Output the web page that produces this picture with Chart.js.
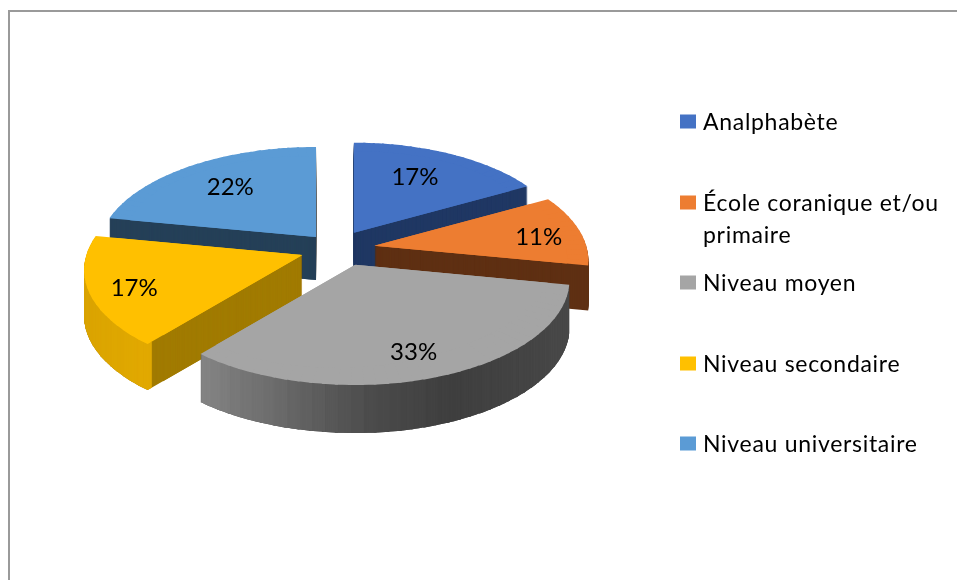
<!DOCTYPE html>
<html lang="fr">
<head>
<meta charset="utf-8">
<title>Niveau d'instruction</title>
<script src="https://cdn.jsdelivr.net/npm/chart.js@4/dist/chart.umd.min.js"></script>
<style>
html,body{margin:0;padding:0;background:#fff;overflow:hidden}
canvas{display:block}
</style>
</head>
<body>
<canvas id="c" width="957" height="580"></canvas>
<script>
const categories = ['Analphabète', 'École coranique et/ou primaire', 'Niveau moyen', 'Niveau secondaire', 'Niveau universitaire'];
const percentages = [17, 11, 33, 17, 22];

const legendLines = [['Analphabète'], ['École coranique et/ou', 'primaire'], ['Niveau moyen'], ['Niveau secondaire'], ['Niveau universitaire']];
const topColors = ['#4472C4', '#ED7D31', '#A5A5A5', '#FFC000', '#5B9BD5'];
const wallColors = ['#203864', '#5F3013', '#4A4A4A', '#A17B00', '#254058'];
const rimStops = [null, null,
  [[-0.75, '#8E8E8E'], [-0.35, '#6E6E6E'], [0.05, '#4C4C4C'], [0.4, '#3F3F3F'], [1, '#4A4A4A']],
  [[-1, '#D9A300'], [-0.6, '#E2AA00']],
  null];
const labelFractions = [0.63, 0.76, 0.8, 0.8, 0.66];
const labelNudge = [[-2, -4], [8, 4], [-6, 1], [1, 4], [-1, -1]];
const explodeNudge = [[1, -4], [7, -1], [7, 2], [-7, 1], [-3, -1]];
const drawOrder = [4, 0, 1, 3, 2];

// Oblique view of the pie plane
const view = {cx: 338, cy: 249, rxLeft: 216, rxRight: 212, ry: 103, persp: 1 / 7, explode: 0.14, depth: 45, depthTilt: 3};
const LEGEND_FONT = '23px Lato';
const LABEL_FONT = '24px Lato';
const SPACING = '0.7px';

function project(u, v) {
  const w = 1 - view.persp * v;
  return {x: (u < 0 ? view.rxLeft : view.rxRight) * u / w, y: view.ry * v / w};
}
function hexMix(a, b, t) {
  const p = h => [1, 3, 5].map(i => parseInt(h.substr(i, 2), 16));
  const A = p(a), B = p(b);
  return 'rgb(' + A.map((c, i) => Math.round(c + (B[i] - c) * t)).join(',') + ')';
}
function rimColor(i, u) {
  const st = rimStops[i];
  if (!st) return wallColors[i];
  if (u <= st[0][0]) return st[0][1];
  for (let k = 1; k < st.length; k++) {
    if (u <= st[k][0]) return hexMix(st[k - 1][1], st[k][1], (u - st[k - 1][0]) / (st[k][0] - st[k - 1][0]));
  }
  return st[st.length - 1][1];
}
function apexOf(arc, i) {
  const m = (arc.startAngle + arc.endAngle) / 2;
  const p = project(view.explode * Math.cos(m), view.explode * Math.sin(m));
  return {x: view.cx + p.x + explodeNudge[i][0], y: view.cy + p.y + explodeNudge[i][1]};
}
// Draw part of a library arc element, with the plane's projection applied locally
function drawPiece(ctx, arc, a, b, color, apex, dy, scale) {
  const ua = Math.cos(a), va = Math.sin(a), ub = Math.cos(b), vb = Math.sin(b);
  const A = project(ua, va), B = project(ub, vb);
  const det = ua * vb - ub * va;
  const s = scale || 1;
  const m11 = s * (A.x * vb - B.x * va) / det, m12 = s * (B.x * ua - A.x * ub) / det;
  const m21 = s * (A.y * vb - B.y * va) / det, m22 = s * (B.y * ua - A.y * ub) / det;
  const r = arc.outerRadius;
  const sa = arc.startAngle, ea = arc.endAngle, ci = arc.circumference, op = arc.options;
  arc.startAngle = a;
  arc.endAngle = Math.min(b + 0.012, ea);
  arc.circumference = arc.endAngle - a;
  arc.options = Object.assign({}, op, {backgroundColor: color, borderColor: color, borderWidth: 0, offset: 0, spacing: 0});
  ctx.save();
  ctx.setTransform(m11 / r, m21 / r, m12 / r, m22 / r,
    apex.x - (m11 * arc.x + m12 * arc.y) / r,
    apex.y + dy - (m21 * arc.x + m22 * arc.y) / r);
  arc.draw(ctx);
  ctx.restore();
  arc.startAngle = sa; arc.endAngle = ea; arc.circumference = ci; arc.options = op;
}
function pieces(arc) {
  const out = [], step = Math.PI / 60;
  const n = Math.max(1, Math.ceil((arc.endAngle - arc.startAngle) / step));
  const d = (arc.endAngle - arc.startAngle) / n;
  for (let k = 0; k < n; k++) out.push([arc.startAngle + k * d, arc.startAngle + (k + 1) * d]);
  return out;
}
function drawSolid(ctx, arc, parts, color, apex, dy) {
  parts.forEach(p => drawPiece(ctx, arc, p[0], p[1], color, apex, dy));
  drawPiece(ctx, arc, arc.startAngle, arc.endAngle, color, apex, dy, 0.9);
}
function drawSlice(ctx, arc, i) {
  const apex = apexOf(arc, i);
  const mid = (arc.startAngle + arc.endAngle) / 2;
  const depth = Math.round(view.depth + view.depthTilt * Math.sin(mid));
  const parts = pieces(arc);
  // body of the slice in its dark wall colour: this gives the straight cut walls
  for (let d = depth; d >= 1; d--) drawSolid(ctx, arc, parts, wallColors[i], apex, d);
  // curved outer wall shading, as a thin ring following the rim
  if (rimStops[i]) {
    const hole = arc.innerRadius;
    arc.innerRadius = arc.outerRadius * 0.97;
    for (let d = depth; d >= 1; d--) {
      parts.forEach(p => {
        const m = (p[0] + p[1]) / 2;
        drawPiece(ctx, arc, p[0], p[1], rimColor(i, Math.cos(m)), apex, d);
      });
    }
    arc.innerRadius = hole;
  }
  // top face
  drawSolid(ctx, arc, parts, topColors[i], apex, 0);
}

const pie3d = {
  id: 'pie3d',
  beforeDatasetsDraw(chart) {
    const ctx = chart.ctx, arcs = chart.getDatasetMeta(0).data;
    drawOrder.forEach(i => drawSlice(ctx, arcs[i], i));
    ctx.save();
    ctx.font = LABEL_FONT;
    ctx.letterSpacing = '0px';
    ctx.fillStyle = '#000';
    ctx.textAlign = 'center';
    ctx.textBaseline = 'middle';
    arcs.forEach((arc, i) => {
      const apex = apexOf(arc, i), m = (arc.startAngle + arc.endAngle) / 2, f = labelFractions[i];
      const p = project(f * Math.cos(m), f * Math.sin(m));
      ctx.fillText(percentages[i] + '%', apex.x + p.x + labelNudge[i][0], apex.y + p.y + labelNudge[i][1]);
    });
    ctx.restore();
    return false;
  },
  afterDraw(chart) {
    const ctx = chart.ctx;
    ctx.save();
    // frame
    ctx.strokeStyle = '#9A9A9A';
    ctx.lineWidth = 2;
    ctx.beginPath();
    ctx.moveTo(9, 580); ctx.lineTo(9, 11); ctx.lineTo(957, 11);
    ctx.stroke();
    // legend
    const rows = [122, 203, 283, 364, 444];
    ctx.font = LEGEND_FONT;
    ctx.letterSpacing = SPACING;
    ctx.textAlign = 'left';
    ctx.textBaseline = 'middle';
    legendLines.forEach((lines, i) => {
      ctx.fillStyle = topColors[i];
      ctx.fillRect(680, rows[i] - 7.5, 16, 14);
      ctx.fillStyle = '#000';
      lines.forEach((t, k) => ctx.fillText(t, 703, rows[i] + 1 + k * 32));
    });
    ctx.restore();
  }
};

new Chart(document.getElementById('c'), {
  type: 'pie',
  data: {
    labels: categories,
    datasets: [{data: percentages, backgroundColor: topColors, borderWidth: 0}]
  },
  options: {
    responsive: false,
    animation: false,
    plugins: {legend: {display: false}, tooltip: {enabled: false}}
  },
  plugins: [pie3d]
});
</script>
</body>
</html>
